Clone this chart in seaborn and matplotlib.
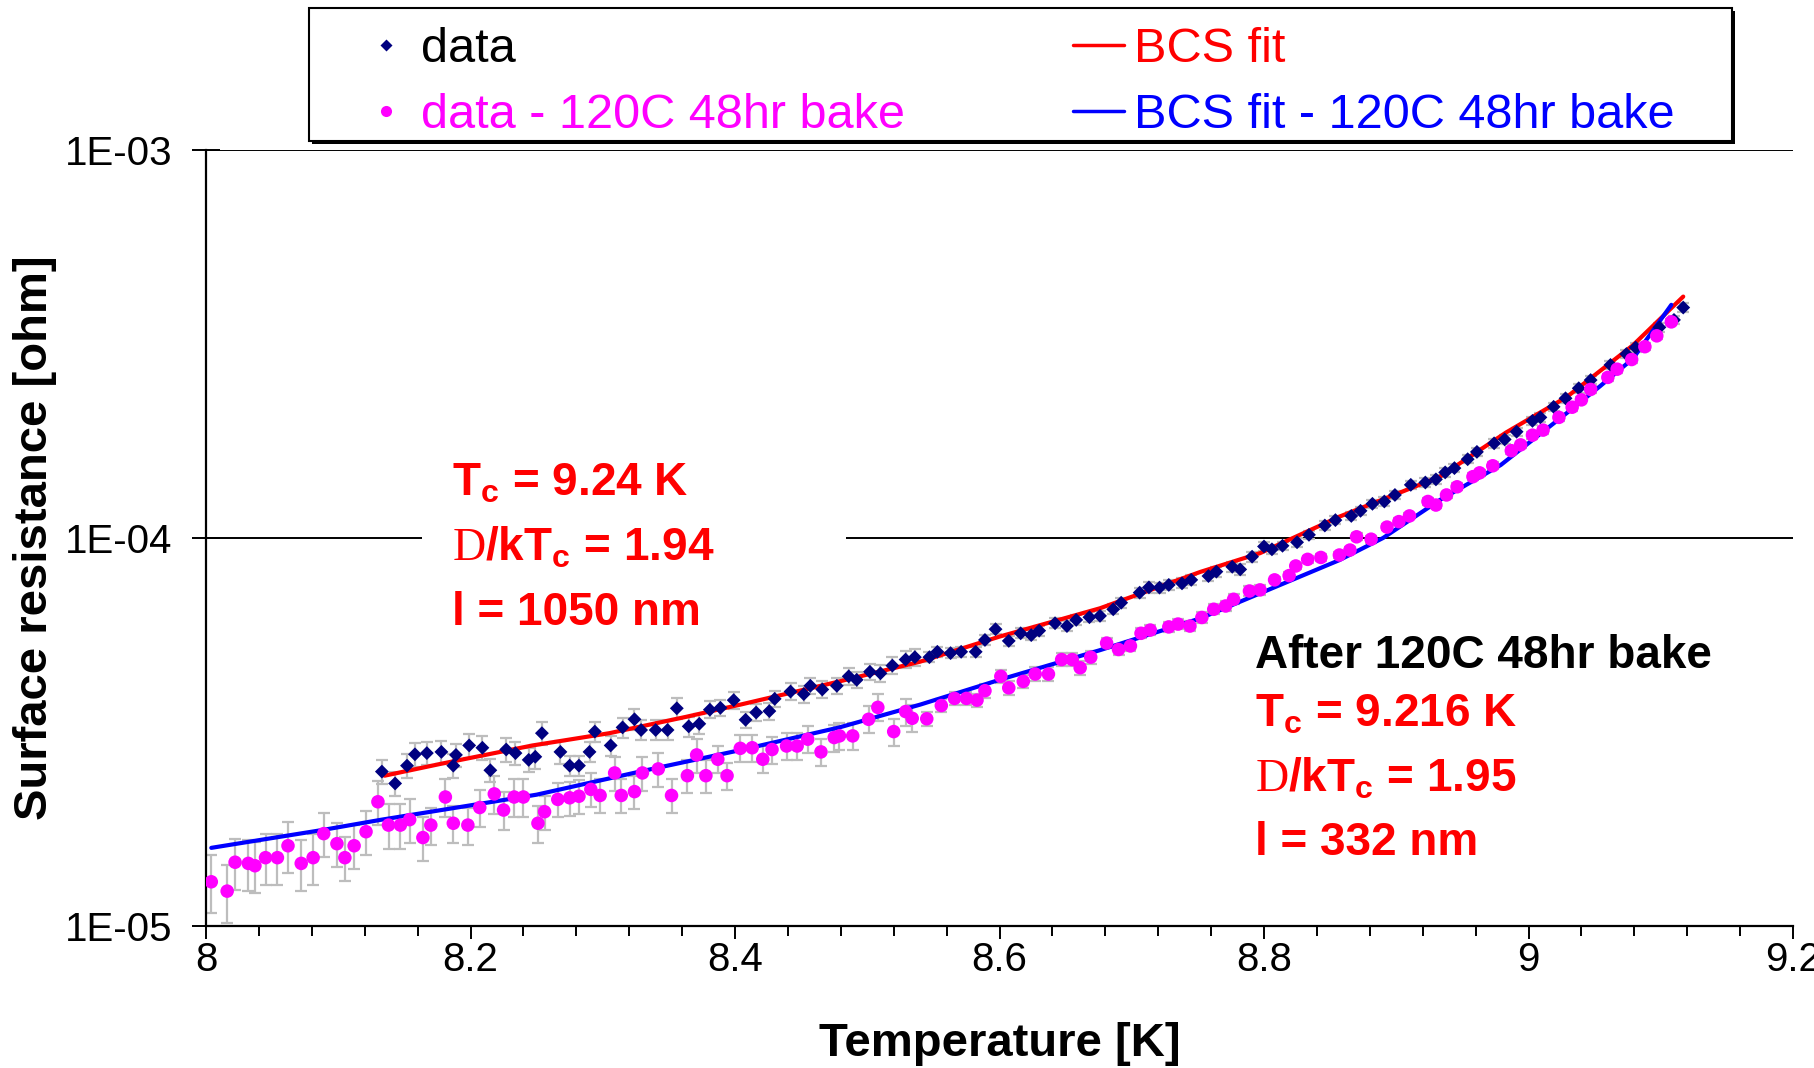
import numpy as np
import pandas as pd
import matplotlib
matplotlib.use("Agg")
import matplotlib.pyplot as plt
from matplotlib.lines import Line2D
from matplotlib.patches import Rectangle
from matplotlib.ticker import FixedLocator, MultipleLocator, NullLocator
import seaborn as sns

# ---------------- data (resistance values in units of 1e-5 ohm) ----------------
temp_data = [8.133, 8.143, 8.152, 8.158, 8.167, 8.178, 8.187, 8.189, 8.199, 8.209, 8.215, 8.227, 8.234, 8.244, 8.249, 8.254, 8.268,
             8.275, 8.282, 8.290, 8.294, 8.306, 8.315, 8.324, 8.329, 8.340, 8.349, 8.356, 8.365, 8.373, 8.381, 8.389, 8.399, 8.408,
             8.416, 8.426, 8.430, 8.442, 8.452, 8.457, 8.466, 8.477, 8.486, 8.492, 8.502, 8.510, 8.519, 8.529, 8.536,
             8.547, 8.553, 8.563, 8.571, 8.582, 8.589, 8.597, 8.607, 8.616, 8.624, 8.630, 8.642, 8.651, 8.658, 8.668, 8.676,
             8.686, 8.692, 8.706, 8.713, 8.721, 8.728, 8.738, 8.745, 8.758, 8.764, 8.776, 8.782, 8.791,
             8.800, 8.806, 8.814, 8.825, 8.834, 8.846, 8.854, 8.866, 8.873, 8.882, 8.891, 8.899, 8.911, 8.922, 8.930, 8.937,
             8.944, 8.954, 8.961, 8.974, 8.982, 8.991,
             9.003, 9.009, 9.019, 9.028, 9.038, 9.047, 9.062, 9.074, 9.081, 9.099, 9.110, 9.117]
rs_data_e5 = [2.50, 2.33, 2.59, 2.77, 2.79, 2.81, 2.59, 2.76, 2.92, 2.88, 2.52, 2.85, 2.79, 2.68, 2.73, 3.14, 2.81,
              2.59, 2.59, 2.81, 3.17, 2.92, 3.25, 3.41, 3.20, 3.20, 3.20, 3.64, 3.27, 3.32, 3.61, 3.65, 3.82, 3.40,
              3.55, 3.58, 3.85, 4.02, 3.96, 4.16, 4.07, 4.16, 4.40, 4.31, 4.52, 4.48, 4.69, 4.86, 4.93,
              4.93, 5.09, 5.05, 5.09, 5.09, 5.46, 5.82, 5.43, 5.68, 5.62, 5.77, 6.03, 5.93, 6.15, 6.25, 6.30,
              6.55, 6.81, 7.23, 7.46, 7.45, 7.57, 7.64, 7.80, 7.98, 8.19, 8.43, 8.30, 8.95,
              9.51, 9.35, 9.55, 9.75, 10.19, 10.77, 11.12, 11.40, 11.75, 12.25, 12.42, 12.91, 13.71, 13.90, 14.16, 14.76,
              15.14, 15.96, 16.67, 17.54, 17.95, 18.79,
              20.04, 20.46, 21.78, 22.91, 24.32, 25.53, 27.93, 29.79, 30.97, 34.91, 36.48, 39.26]
err_data_pct = ([7.0] * 17 + [6.0] * 13 + [5.0] * 19 + [3.0] * 29 + [2.5] * 34)

temp_bake = [8.004, 8.016, 8.022, 8.032, 8.037, 8.045, 8.054, 8.062, 8.072, 8.081, 8.089, 8.099, 8.105, 8.112, 8.121,
             8.130, 8.138, 8.147, 8.154, 8.164, 8.170, 8.181, 8.187, 8.198, 8.207, 8.218, 8.225, 8.233, 8.240, 8.251,
             8.256, 8.266, 8.275, 8.282, 8.291, 8.298, 8.309, 8.314, 8.324, 8.330, 8.342, 8.352, 8.364, 8.371, 8.378,
             8.387, 8.394, 8.404, 8.413, 8.421, 8.428, 8.439, 8.447, 8.455, 8.465, 8.475, 8.479, 8.489, 8.501, 8.508,
             8.520, 8.529, 8.534,
             8.545, 8.556, 8.566, 8.575, 8.583, 8.589, 8.601, 8.607, 8.618, 8.627, 8.637, 8.647, 8.655, 8.661, 8.669,
             8.681, 8.690, 8.699, 8.707, 8.714, 8.728, 8.735, 8.744, 8.753, 8.762, 8.771, 8.777, 8.789, 8.797,
             8.808, 8.819, 8.824, 8.833, 8.843, 8.857, 8.865, 8.870, 8.881, 8.893, 8.902, 8.910, 8.924, 8.930, 8.938,
             8.946, 8.958, 8.963, 8.973, 8.987, 8.994, 9.003,
             9.011, 9.023, 9.033, 9.040, 9.047, 9.060, 9.067, 9.078, 9.088, 9.097, 9.108]
rs_bake_e5 = [1.30, 1.23, 1.46, 1.45, 1.43, 1.50, 1.50, 1.61, 1.45, 1.50, 1.73, 1.63, 1.50, 1.61, 1.75,
              2.09, 1.82, 1.82, 1.88, 1.69, 1.82, 2.15, 1.84, 1.82, 2.02, 2.19, 1.99, 2.15, 2.15, 1.84,
              1.97, 2.12, 2.14, 2.16, 2.25, 2.17, 2.48, 2.17, 2.22, 2.48, 2.54, 2.17, 2.44, 2.76, 2.44,
              2.69, 2.44, 2.87, 2.88, 2.69, 2.85, 2.91, 2.91, 3.03, 2.81, 3.06, 3.09, 3.09, 3.41, 3.66,
              3.17, 3.57, 3.43,
              3.42, 3.70, 3.86, 3.86, 3.82, 4.04, 4.40, 4.11, 4.27, 4.46, 4.46, 4.86, 4.86, 4.63, 4.93,
              5.36, 5.16, 5.27, 5.68, 5.79, 5.90, 6.00, 5.93, 6.24, 6.55, 6.68, 6.95, 7.30, 7.35,
              7.80, 8.00, 8.47, 8.81, 8.91, 9.04, 9.31, 10.07, 9.93, 10.67, 11.02, 11.40, 12.42, 12.16, 12.91,
              13.55, 14.39, 14.72, 15.35, 16.79, 17.38, 18.41,
              18.97, 20.46, 21.73, 22.70, 24.15, 25.94, 27.23, 28.84, 31.12, 33.19, 36.06]
err_bake_pct = ([17.0] * 2 + [15.0] * 8 + [13.0] * 10 + [11.0] * 10 + [10.0] * 15 + [8.0] * 18
                + [4.0] * 15 + [3.0] * 14 + [2.0] * 33)

temp_fit = [8.135, 8.178, 8.247, 8.305, 8.363, 8.404, 8.479, 8.540, 8.600, 8.676, 8.752, 8.797,
            8.857, 8.933, 8.983, 9.029, 9.079, 9.117]
rs_fit_e5 = [2.44, 2.62, 2.92, 3.14, 3.46, 3.72, 4.27, 4.80, 5.57, 6.59, 8.18, 9.14,
             11.35, 14.39, 18.70, 23.10, 31.40, 41.90]

temp_fit_bake = [8.004, 8.038, 8.089, 8.133, 8.250, 8.328, 8.404, 8.479, 8.540, 8.600, 8.676, 8.752,
                 8.797, 8.857, 8.890, 8.933, 8.979, 9.029, 9.054, 9.079, 9.108]
rs_fit_bake_e5 = [1.59, 1.66, 1.77, 1.88, 2.18, 2.50, 2.84, 3.25, 3.72, 4.31, 5.14, 6.21,
                  7.20, 8.77, 10.00, 12.53, 15.42, 21.00, 24.60, 29.00, 39.90]

x_ticks = [8.0, 8.2, 8.4, 8.6, 8.8, 9.0, 9.2]
x_tick_labels = ["8", "8.2", "8.4", "8.6", "8.8", "9", "9.2"]
y_ticks = [1e-5, 1e-4, 1e-3]
y_tick_labels = ["1E-05", "1E-04", "1E-03"]
legend_labels = ["data", "data - 120C 48hr bake", "BCS fit", "BCS fit - 120C 48hr bake"]

# ---------------- style ----------------
sns.set_theme(style="white")
plt.rcParams["font.family"] = ["Liberation Sans", "DejaVu Sans"]
plt.rcParams["mathtext.fontset"] = "custom"
plt.rcParams["mathtext.rm"] = "Liberation Serif"
plt.rcParams["mathtext.bf"] = "Liberation Sans:bold"
plt.rcParams["mathtext.it"] = "Liberation Sans:italic"
plt.rcParams["mathtext.sf"] = "Liberation Sans"
for k in ["text.color", "axes.labelcolor", "xtick.color", "ytick.color", "axes.edgecolor"]:
    plt.rcParams[k] = "black"

NAVY, PINK, RED, BLUE, GREY = "#000080", "#FF00FF", "#FF0000", "#0000FF", "#BDBDBD"

W, H = 1814, 1068
fig = plt.figure(figsize=(W / 100, H / 100), dpi=100)
ax = fig.add_axes([206 / W, 142 / H, 1587 / W, 776 / H])

df_data = pd.DataFrame({"T": temp_data, "R": np.array(rs_data_e5) * 1e-5})
df_data["err"] = df_data["R"] * np.array(err_data_pct) / 100
df_bake = pd.DataFrame({"T": temp_bake, "R": np.array(rs_bake_e5) * 1e-5})
df_bake["err"] = df_bake["R"] * np.array(err_bake_pct) / 100
df_fit = pd.DataFrame({"T": temp_fit, "R": np.array(rs_fit_e5) * 1e-5})
df_fit_bake = pd.DataFrame({"T": temp_fit_bake, "R": np.array(rs_fit_bake_e5) * 1e-5})

ax.set_yscale("log")

for df in (df_data, df_bake):
    ax.errorbar(df["T"], df["R"], yerr=df["err"], fmt="none", ecolor=GREY,
                elinewidth=1.6, capsize=4.3, capthick=1.6, zorder=2)

sns.lineplot(data=df_fit, x="T", y="R", color=RED, lw=3, ax=ax, sort=False,
             estimator=None, zorder=3, legend=False)
sns.lineplot(data=df_fit_bake, x="T", y="R", color=BLUE, lw=3, ax=ax, sort=False,
             estimator=None, zorder=3, legend=False)
sns.scatterplot(data=df_data, x="T", y="R", marker="D", s=50, color=NAVY,
                edgecolor="none", linewidth=0, ax=ax, zorder=5, legend=False)
sns.scatterplot(data=df_bake, x="T", y="R", marker="o", s=95, color=PINK,
                edgecolor="none", linewidth=0, ax=ax, zorder=5, legend=False)

# ---------------- axes ----------------
ax.set_xlim(8.0, 9.2)
ax.set_ylim(1e-5, 1e-3)
ax.xaxis.set_major_locator(FixedLocator(x_ticks))
ax.set_xticklabels(x_tick_labels)
ax.xaxis.set_minor_locator(MultipleLocator(0.04))
ax.yaxis.set_major_locator(FixedLocator(y_ticks))
ax.yaxis.set_minor_locator(NullLocator())
ax.set_yticklabels(y_tick_labels)
ax.tick_params(axis="x", which="major", direction="out", length=9.5, width=1.4,
               labelsize=29, pad=1, bottom=True, colors="black")
ax.tick_params(axis="x", which="minor", direction="out", length=7, width=1.4, bottom=True)
ax.tick_params(axis="y", which="major", direction="inout", length=20, width=1.4,
               labelsize=29, pad=14, left=True, colors="black")
ax.set_axisbelow(True)
ax.yaxis.grid(True, which="major", color="black", lw=1.4)
ax.xaxis.grid(False)
for s in ["top", "right"]:
    ax.spines[s].set_visible(False)
for s in ["left", "bottom"]:
    ax.spines[s].set_color("black")
    ax.spines[s].set_linewidth(1.6)

ax.set_xlabel("Temperature [K]", fontsize=34, fontweight="bold")
ax.xaxis.set_label_coords(0.5, (926 - 1044) / 776)
ax.xaxis.label.set_va("center")
ax.set_ylabel("Surface resistance [ohm]", fontsize=34, fontweight="bold")
ax.yaxis.set_label_coords((35 - 206) / 1587, 0.5)
ax.yaxis.label.set_va("center")

# white box behind the first annotation (interrupts the gridline)
ax.add_patch(Rectangle((0.136, 0.44), 0.267, 0.12, transform=ax.transAxes,
                       fc="white", ec="none", zorder=2.5))

tf = dict(transform=ax.transAxes, fontsize=33, fontweight="bold", ha="left",
          va="baseline", zorder=6)
ax.text(0.155, 0.5554, r"T$_\mathbf{c}$ = 9.24 K", color=RED, **tf)
ax.text(0.155, 0.4716, r"$\mathrm{D}$/kT$_\mathbf{c}$ = 1.94", color=RED, **tf)
ax.text(0.155, 0.3879, "l = 1050 nm", color=RED, **tf)

ax.text(0.661, 0.3325, "After 120C 48hr bake", color="black", **tf)
ax.text(0.661, 0.2577, r"T$_\mathbf{c}$ = 9.216 K", color=RED, **tf)
ax.text(0.661, 0.1727, r"$\mathrm{D}$/kT$_\mathbf{c}$ = 1.95", color=RED, **tf)
ax.text(0.661, 0.0915, "l = 332 nm", color=RED, **tf)

# ---------------- legend ----------------
fig.patches.append(Rectangle((312 / W, 1 - 144 / H), 1423 / W, 133 / H, transform=fig.transFigure,
                             fc="black", ec="none", zorder=-2))
fig.patches.append(Rectangle((309 / W, 1 - 141 / H), 1423 / W, 133 / H, transform=fig.transFigure,
                             fc="white", ec="black", lw=1.5, zorder=-1))
handles = [
    Line2D([], [], marker="D", ls="none", color=NAVY, ms=6, mec="none"),
    Line2D([], [], marker="o", ls="none", color=PINK, ms=8, mec="none"),
    Line2D([], [], color=RED, lw=2.5),
    Line2D([], [], color=BLUE, lw=2.5),
]
ax.legend(handles, legend_labels, loc="upper left", bbox_to_anchor=(360 / W, 1 - 27 / H),
          bbox_transform=fig.transFigure, ncol=2, frameon=False, fontsize=35,
          handlelength=1.05, handletextpad=0.2, columnspacing=3.46, labelspacing=0.43,
          borderpad=0, borderaxespad=0, labelcolor=["black", PINK, RED, BLUE])

fig.savefig("out.png", dpi=100)
